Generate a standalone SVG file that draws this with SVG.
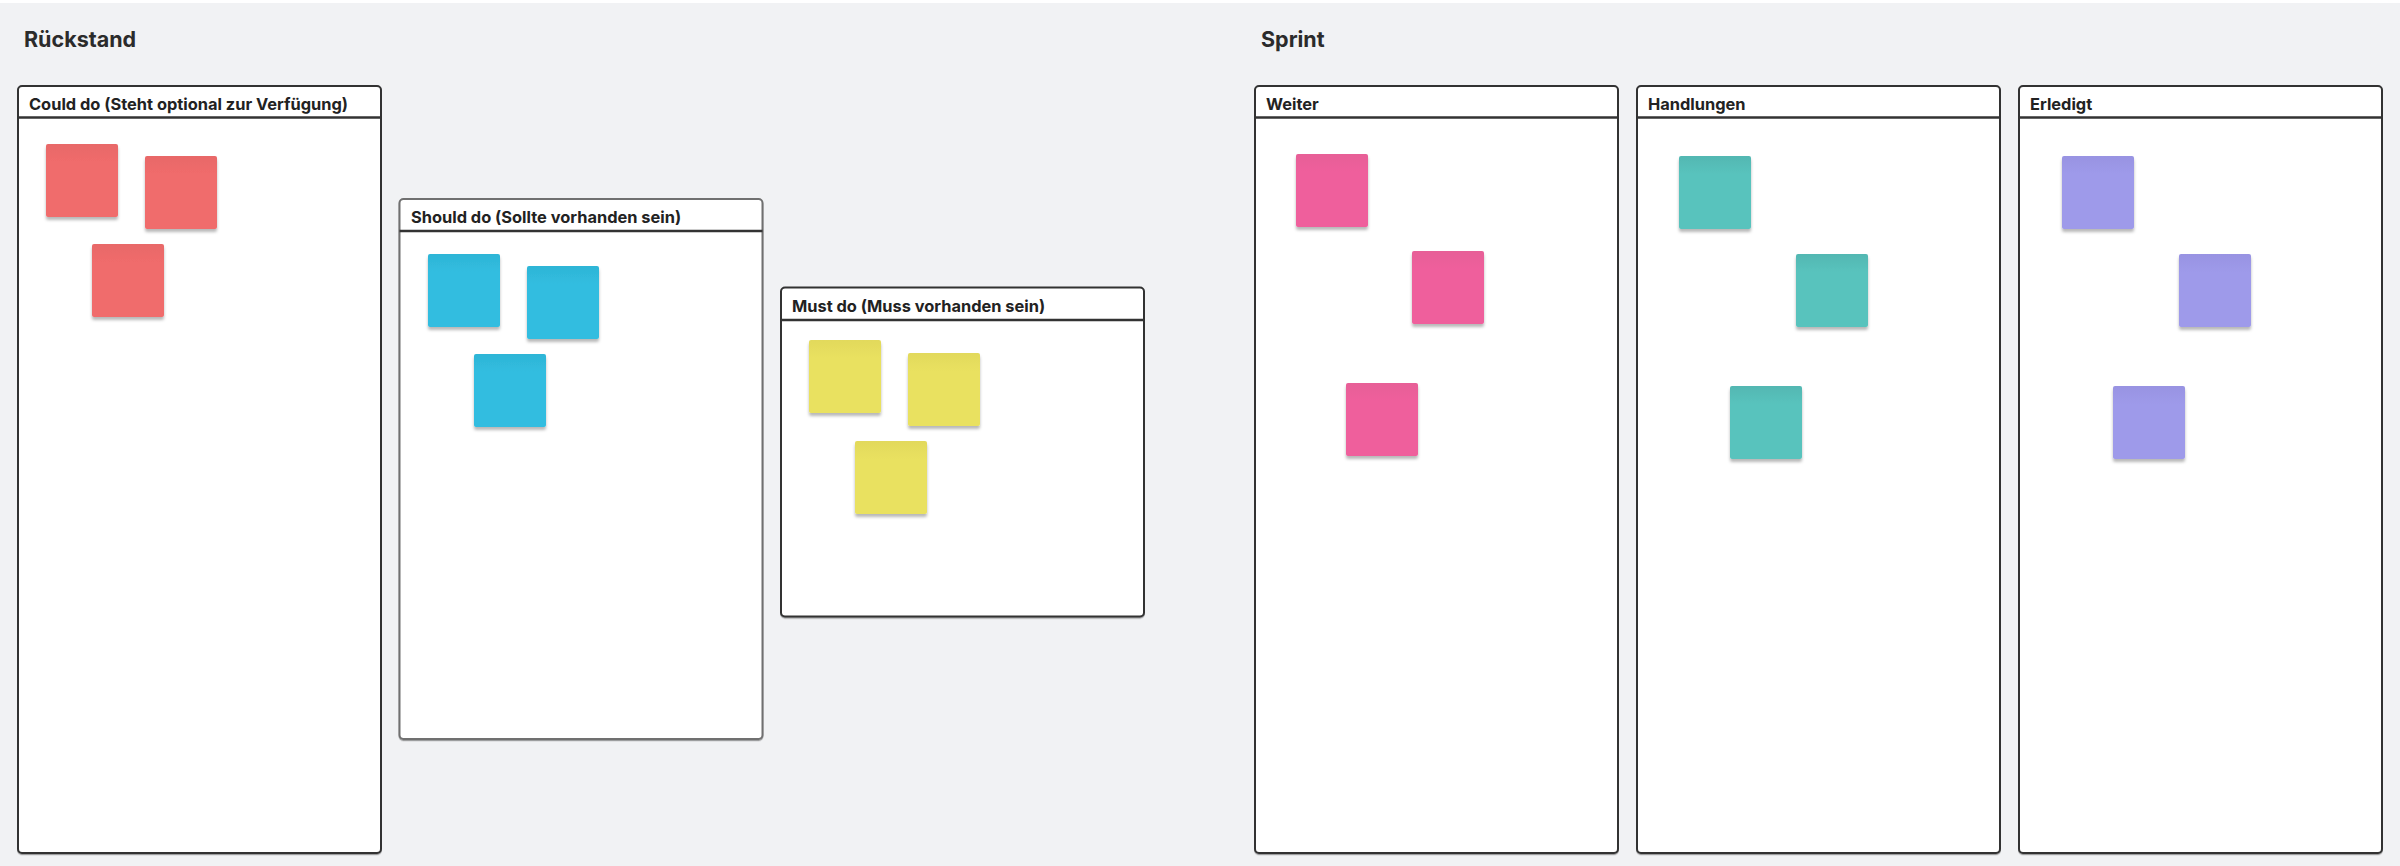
<svg xmlns="http://www.w3.org/2000/svg" width="2400" height="866" viewBox="0 0 2400 866">
<style>
.title{font-family:Inter,"Liberation Sans",sans-serif;font-weight:700;font-size:21.5px;fill:#2b2b2b}
.head{font-family:Inter,"Liberation Sans",sans-serif;font-weight:700;font-size:16.4px;fill:#222}
.frame{fill:#fff;stroke:#333;stroke-width:2}
.frame.light{stroke:#707070}
.hline{stroke:#333;stroke-width:2.5}
.red{fill:url(#gRed)}
.blue{fill:url(#gBlue)}
.yellow{fill:url(#gYellow)}
.pink{fill:url(#gPink)}
.teal{fill:url(#gTeal)}
.purple{fill:url(#gPurple)}
.sticky{filter:url(#sh)}
</style>
<defs>
<filter id="sh" x="-20%" y="-20%" width="140%" height="150%">
<feDropShadow dx="0" dy="3" stdDeviation="1.8" flood-color="#000" flood-opacity="0.28"/>
</filter>
<filter id="psh" x="-5%" y="-5%" width="110%" height="110%">
<feDropShadow dx="0" dy="1.2" stdDeviation="0.5" flood-color="#000" flood-opacity="0.35"/>
</filter>
<linearGradient id="gRed" x1="0" y1="0" x2="0" y2="1"><stop offset="0" stop-color="#e86868"/><stop offset="0.25" stop-color="#f06c6c"/><stop offset="1" stop-color="#f06c6c"/></linearGradient>
<linearGradient id="gBlue" x1="0" y1="0" x2="0" y2="1"><stop offset="0" stop-color="#2eb5d6"/><stop offset="0.25" stop-color="#31bde0"/><stop offset="1" stop-color="#31bde0"/></linearGradient>
<linearGradient id="gYellow" x1="0" y1="0" x2="0" y2="1"><stop offset="0" stop-color="#e2d95b"/><stop offset="0.25" stop-color="#e9e160"/><stop offset="1" stop-color="#e9e160"/></linearGradient>
<linearGradient id="gPink" x1="0" y1="0" x2="0" y2="1"><stop offset="0" stop-color="#e75e97"/><stop offset="0.25" stop-color="#ef5e9c"/><stop offset="1" stop-color="#ef5e9c"/></linearGradient>
<linearGradient id="gTeal" x1="0" y1="0" x2="0" y2="1"><stop offset="0" stop-color="#52b7b2"/><stop offset="0.25" stop-color="#59c3bd"/><stop offset="1" stop-color="#59c3bd"/></linearGradient>
<linearGradient id="gPurple" x1="0" y1="0" x2="0" y2="1"><stop offset="0" stop-color="#9893e2"/><stop offset="0.25" stop-color="#9e9aea"/><stop offset="1" stop-color="#9e9aea"/></linearGradient>
</defs>
<rect x="0" y="0" width="2400" height="866" fill="#ffffff"/>
<rect x="0" y="3" width="2400" height="863" fill="#f1f2f4"/>

<g id="section-rueckstand">
<text class="title" x="24" y="47">Rückstand</text>
</g>
<g id="section-sprint">
<text class="title" x="1261" y="47">Sprint</text>
</g>

<g id="could-do">
<rect class="frame" x="18" y="86" width="363" height="767" rx="4" filter="url(#psh)"/>
<line class="hline" x1="18" y1="117.5" x2="381" y2="117.5"/>
<text class="head" x="29" y="110">Could do (Steht optional zur Verfügung)</text>
<g class="sticky">
<rect class="red" x="46" y="144" width="72" height="73" rx="2"/>
<rect class="red" x="145" y="156" width="72" height="73" rx="2"/>
<rect class="red" x="92" y="244" width="72" height="73" rx="2"/>
</g>
</g>

<g id="should-do">
<rect class="frame light" x="399.5" y="199" width="363" height="540" rx="4" filter="url(#psh)"/>
<line class="hline" x1="399.5" y1="231" x2="762.5" y2="231"/>
<text class="head" x="411" y="223">Should do (Sollte vorhanden sein)</text>
<g class="sticky">
<rect class="blue" x="428" y="254" width="72" height="73" rx="2"/>
<rect class="blue" x="527" y="266" width="72" height="73" rx="2"/>
<rect class="blue" x="474" y="354" width="72" height="73" rx="2"/>
</g>
</g>

<g id="must-do">
<rect class="frame" x="781" y="287.5" width="363" height="329" rx="4" filter="url(#psh)"/>
<line class="hline" x1="781" y1="320" x2="1144" y2="320"/>
<text class="head" x="792" y="312">Must do (Muss vorhanden sein)</text>
<g class="sticky">
<rect class="yellow" x="809" y="340" width="72" height="73" rx="2"/>
<rect class="yellow" x="908" y="353" width="72" height="73" rx="2"/>
<rect class="yellow" x="855" y="441" width="72" height="73" rx="2"/>
</g>
</g>

<g id="weiter">
<rect class="frame" x="1255" y="86" width="363" height="767" rx="4" filter="url(#psh)"/>
<line class="hline" x1="1255" y1="117.5" x2="1618" y2="117.5"/>
<text class="head" x="1266" y="110">Weiter</text>
<g class="sticky">
<rect class="pink" x="1296" y="154" width="72" height="73" rx="2"/>
<rect class="pink" x="1412" y="251" width="72" height="73" rx="2"/>
<rect class="pink" x="1346" y="383" width="72" height="73" rx="2"/>
</g>
</g>

<g id="handlungen">
<rect class="frame" x="1637" y="86" width="363" height="767" rx="4" filter="url(#psh)"/>
<line class="hline" x1="1637" y1="117.5" x2="2000" y2="117.5"/>
<text class="head" x="1648" y="110">Handlungen</text>
<g class="sticky">
<rect class="teal" x="1679" y="156" width="72" height="73" rx="2"/>
<rect class="teal" x="1796" y="254" width="72" height="73" rx="2"/>
<rect class="teal" x="1730" y="386" width="72" height="73" rx="2"/>
</g>
</g>

<g id="erledigt">
<rect class="frame" x="2019" y="86" width="363" height="767" rx="4" filter="url(#psh)"/>
<line class="hline" x1="2019" y1="117.5" x2="2382" y2="117.5"/>
<text class="head" x="2030" y="110">Erledigt</text>
<g class="sticky">
<rect class="purple" x="2062" y="156" width="72" height="73" rx="2"/>
<rect class="purple" x="2179" y="254" width="72" height="73" rx="2"/>
<rect class="purple" x="2113" y="386" width="72" height="73" rx="2"/>
</g>
</g>

<g id="connectors"></g>
</svg>
